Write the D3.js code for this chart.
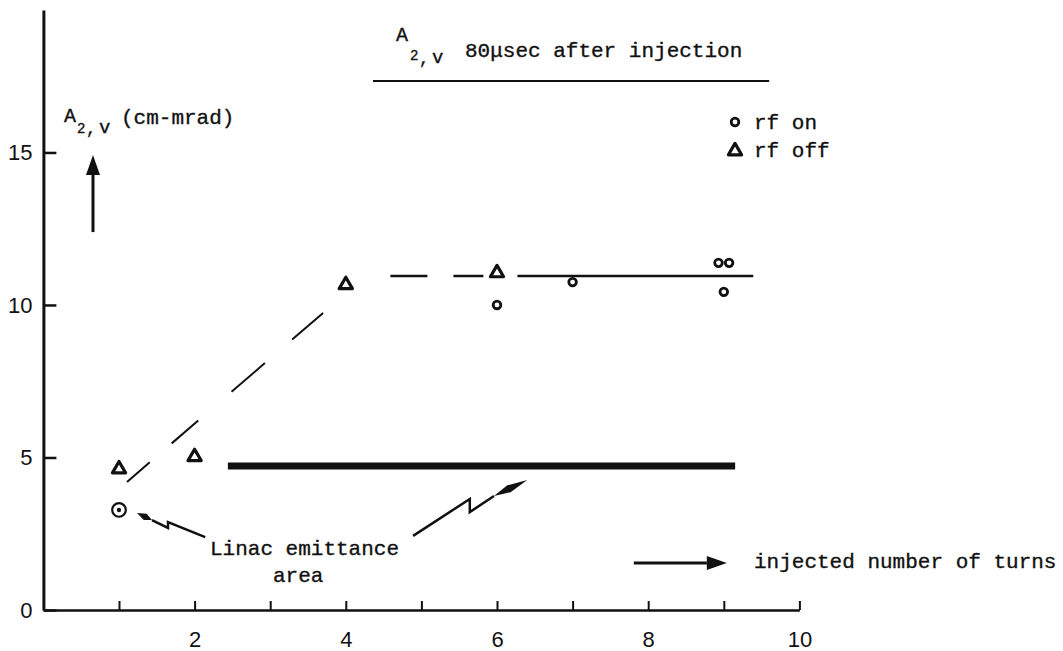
<!DOCTYPE html>
<html>
<head>
<meta charset="utf-8">
<script src="https://cdn.jsdelivr.net/npm/d3@7"></script>
<style>
  html, body { margin: 0; padding: 0; background: #fff; }
  .mono { font-family: "Liberation Mono", "Courier New", monospace; fill: #111; stroke: #111; stroke-width: 0.35; }
  .tick text { font-family: "Liberation Sans Narrow", "Liberation Sans", Arial, sans-serif; fill: #111; }
</style>
</head>
<body>
<div id="chart"></div>
<script>
// values
var turnTicks = [1, 2, 3, 4, 5, 6, 7, 8, 9, 10];
var turnTickLabels = ['', '2', '', '4', '', '6', '', '8', '', '10'];
var areaTicks = [0, 5, 10, 15];

var rfOnTurns = [6, 7, 8.93, 9.07, 9];
var rfOnArea  = [10.0, 10.75, 11.38, 11.38, 10.43];

var rfOffTurns = [1, 2, 4, 6];
var rfOffArea  = [4.62, 5.02, 10.66, 11.05];

var linacTurns = [1];
var linacArea  = [3.28];

// drawn trend lines
var riseTurns = [1.106, 3.70],  riseArea = [4.20, 9.74];
var plateauDashTurns = [4.59, 5.82], plateauDashArea = [10.95, 10.95];
var plateauTurns = [6.27, 9.39],  plateauArea = [10.95, 10.95];
var linacLevelTurns = [2.44, 9.15], linacLevelArea = [4.72, 4.72];

var W = 1063, H = 651;

var svg = d3.select('#chart').append('svg')
    .attr('width', W)
    .attr('height', H);

var x = d3.scaleLinear().domain([0, 10]).range([43.4, 799.4]);
var y = d3.scaleLinear().domain([0, 19.67]).range([610, 10]);

var ink = '#111';

// axes
var xAxis = d3.axisBottom(x)
    .tickValues(turnTicks)
    .tickSizeInner(-9)
    .tickSizeOuter(0)
    .tickPadding(21)
    .tickFormat(function(d, i) { return turnTickLabels[i]; });

var yAxis = d3.axisLeft(y)
    .tickValues(areaTicks)
    .tickSizeInner(-13)
    .tickSizeOuter(0)
    .tickPadding(11)
    .tickFormat(d3.format('d'));

var gx = svg.append('g')
    .attr('transform', 'translate(0,' + y(0) + ')')
    .call(xAxis);
gx.selectAll('.tick text').attr('font-size', 22);
gx.selectAll('line').attr('stroke', ink).attr('stroke-width', 2);
gx.select('.domain').attr('stroke', ink).attr('stroke-width', 2.5);

var gy = svg.append('g')
    .attr('transform', 'translate(' + x(0) + ',0)')
    .call(yAxis);
gy.selectAll('.tick text').attr('font-size', 22);
gy.selectAll('line').attr('stroke', ink).attr('stroke-width', 2.5);
gy.select('.domain').attr('stroke', ink).attr('stroke-width', 3);

// lines
var line = d3.line()
    .x(function(d) { return x(d[0]); })
    .y(function(d) { return y(d[1]); });

function pairs(xs, ys) { return xs.map(function(v, i) { return [v, ys[i]]; }); }

svg.append('path')
    .attr('d', line(pairs(riseTurns, riseArea)))
    .attr('fill', 'none').attr('stroke', ink).attr('stroke-width', 2)
    .attr('stroke-dasharray', '30,29,35,44,44,36,42');

svg.append('path')
    .attr('d', line(pairs(plateauDashTurns, plateauDashArea)))
    .attr('fill', 'none').attr('stroke', ink).attr('stroke-width', 2.5)
    .attr('stroke-dasharray', '37,26,30');

svg.append('path')
    .attr('d', line(pairs(plateauTurns, plateauArea)))
    .attr('fill', 'none').attr('stroke', ink).attr('stroke-width', 2.5);

svg.append('path')
    .attr('d', line(pairs(linacLevelTurns, linacLevelArea)))
    .attr('fill', 'none').attr('stroke', ink).attr('stroke-width', 7);

// markers
var tri = d3.symbol().type(d3.symbolTriangle).size(75);

svg.append('g').selectAll('path')
    .data(pairs(rfOffTurns, rfOffArea))
    .enter()
    .append('path')
    .attr('d', tri)
    .attr('transform', function(d) { return 'translate(' + x(d[0]) + ',' + y(d[1]) + ')'; })
    .attr('fill', 'none').attr('stroke', ink).attr('stroke-width', 3.2).attr('stroke-linejoin', 'round');

svg.append('g').selectAll('circle')
    .data(pairs(rfOnTurns, rfOnArea))
    .enter()
    .append('circle')
    .attr('cx', function(d) { return x(d[0]); })
    .attr('cy', function(d) { return y(d[1]); })
    .attr('r', 3.8)
    .attr('fill', 'none').attr('stroke', ink).attr('stroke-width', 2.8);

var linac = svg.append('g').selectAll('g')
    .data(pairs(linacTurns, linacArea))
    .enter()
    .append('g')
    .attr('transform', function(d) { return 'translate(' + x(d[0]) + ',' + y(d[1]) + ')'; });
linac.append('circle').attr('r', 6.8).attr('fill', 'none').attr('stroke', ink).attr('stroke-width', 2.2);
linac.append('circle').attr('r', 2.2).attr('fill', ink);

// arrows
function arrow(x1, y1, x2, y2, w) {
  var ang = Math.atan2(y2 - y1, x2 - x1), len = 20, half = 7;
  var bx = x2 - len * Math.cos(ang), by = y2 - len * Math.sin(ang);
  svg.append('line')
      .attr('x1', x1).attr('y1', y1).attr('x2', bx).attr('y2', by)
      .attr('stroke', ink).attr('stroke-width', w);
  svg.append('path')
      .attr('d', 'M' + x2 + ',' + y2 +
                 'L' + (bx + half * Math.sin(ang)) + ',' + (by - half * Math.cos(ang)) +
                 'L' + (bx - half * Math.sin(ang)) + ',' + (by + half * Math.cos(ang)) + 'Z')
      .attr('fill', ink);
}
arrow(x(0.656), y(12.39), x(0.656), y(14.92), 3);
arrow(x(7.81), y(1.54), x(9.04), y(1.54), 3);

// lightning pointers to the linac emittance level
function bolt(pts, thick) {
  var p = pts.map(function(d) { return [x(d[0]), y(d[1])]; });
  svg.append('path')
      .attr('d', d3.line()(p.slice(0, p.length - 1)))
      .attr('fill', 'none').attr('stroke', ink).attr('stroke-width', 2.5)
      .attr('stroke-linejoin', 'miter');
  var a = p[p.length - 2], b = p[p.length - 1];
  var ang = Math.atan2(b[1] - a[1], b[0] - a[0]);
  var mx = a[0] + (b[0] - a[0]) * 0.45, my = a[1] + (b[1] - a[1]) * 0.45;
  svg.append('path')
      .attr('d', 'M' + a[0] + ',' + a[1] +
                 'L' + (mx + thick * Math.sin(ang)) + ',' + (my - thick * Math.cos(ang)) +
                 'L' + b[0] + ',' + b[1] +
                 'L' + (mx - thick * Math.sin(ang)) + ',' + (my + thick * Math.cos(ang)) + 'Z')
      .attr('fill', ink);
}
bolt([[2.14, 2.39], [1.648, 2.885], [1.648, 2.69], [1.436, 2.95], [1.238, 3.18]], 3.4);
bolt([[4.89, 2.43], [5.64, 3.64], [5.64, 3.21], [5.96, 3.74], [6.40, 4.26]], 3.8);

// texts
function txt(px, py, s, size) {
  return svg.append('text').attr('class', 'mono')
      .attr('x', px).attr('y', py).attr('font-size', size).text(s);
}

// title with underline
txt(396, 41, 'A', 20);
txt(410, 60, '2', 14);
txt(419, 64, ',', 17);
txt(432, 63, 'v', 19);
txt(465, 57, '80\u03bcsec after injection', 21);
svg.append('line')
    .attr('x1', x(4.36)).attr('x2', x(9.6))
    .attr('y1', y(17.34)).attr('y2', y(17.34))
    .attr('stroke', ink).attr('stroke-width', 2);

// y axis label
txt(64, 122, 'A', 20);
txt(77, 133, '2', 14);
txt(86, 134, ',', 17);
txt(99, 133, 'v', 19);
txt(121, 124, '(cm-mrad)', 21);

// legend
svg.append('circle').attr('cx', 735).attr('cy', 122).attr('r', 3.8)
    .attr('fill', 'none').attr('stroke', ink).attr('stroke-width', 2.8);
txt(754, 129, 'rf on', 21);
svg.append('path').attr('d', tri).attr('transform', 'translate(735,151)')
    .attr('fill', 'none').attr('stroke', ink).attr('stroke-width', 3.2).attr('stroke-linejoin', 'round');
txt(754, 157, 'rf off', 21);

// annotations
txt(210, 555, 'Linac emittance', 21);
txt(273, 582, 'area', 21);
txt(754, 568, 'injected number of turns', 21);
</script>
</body>
</html>
